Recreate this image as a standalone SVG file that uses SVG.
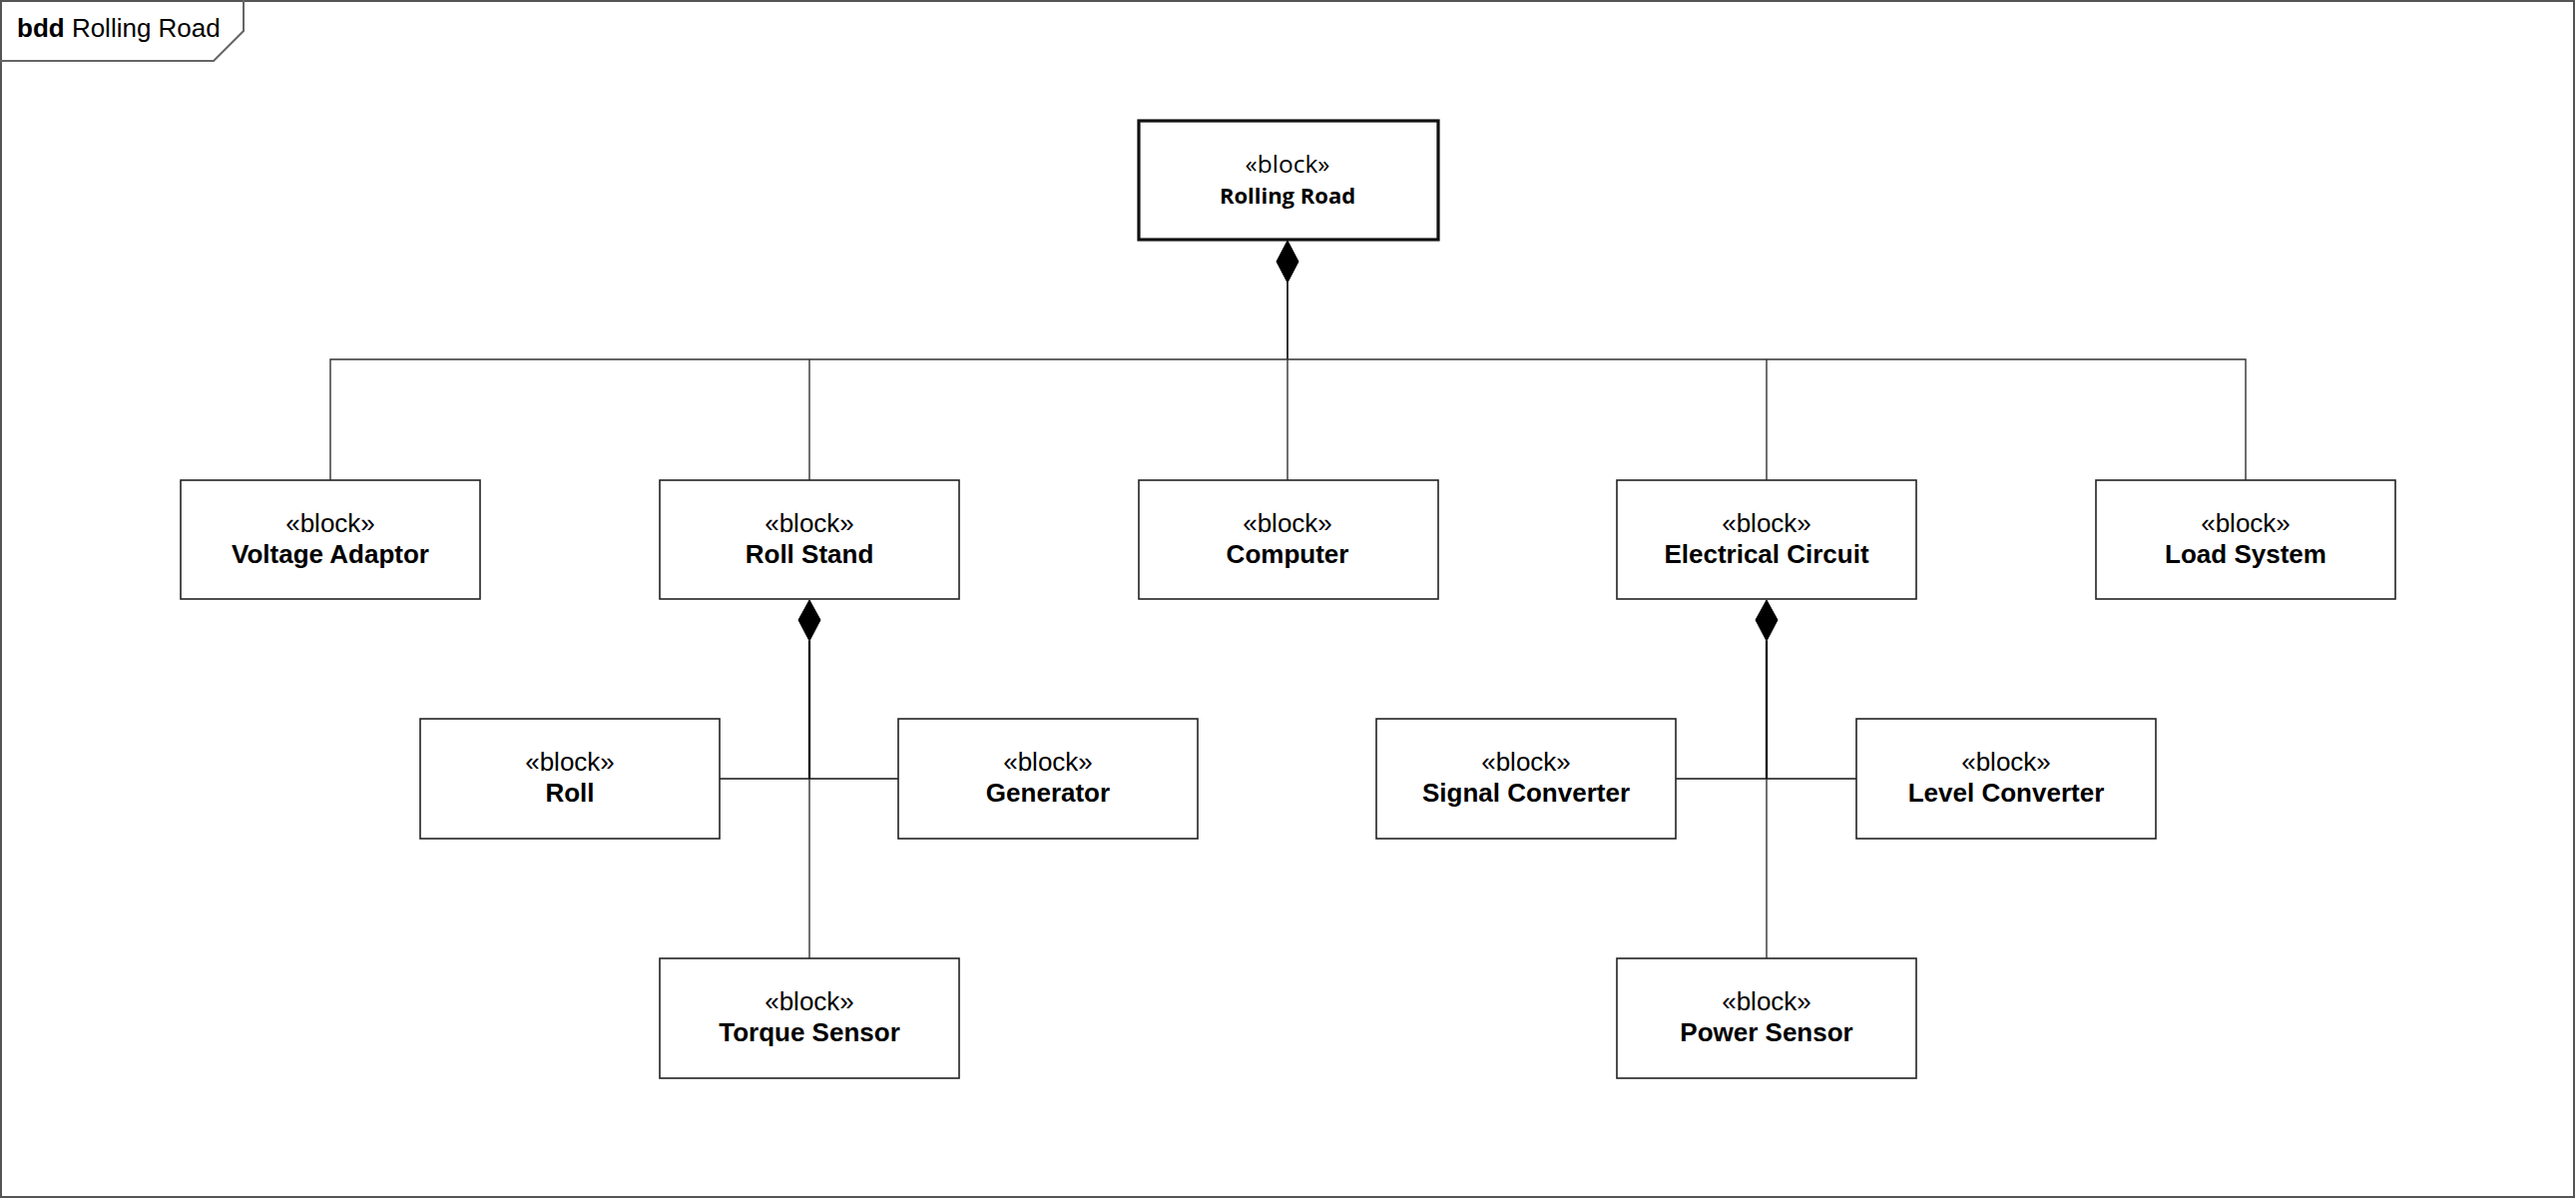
<svg xmlns="http://www.w3.org/2000/svg" width="2581" height="1201" viewBox="0 0 2581 1201">
<style>
.frame{fill:#fff;stroke:#555;stroke-width:2}
.tab{fill:none;stroke:#666;stroke-width:2}
.box{fill:#fff;stroke:#222;stroke-width:1.6}
.root{fill:#fff;stroke:#111;stroke-width:3.2}
.st{font-family:"Liberation Sans",Arial,sans-serif;font-size:26px;fill:#000;text-anchor:middle}
.nm{font-family:"Liberation Sans",Arial,sans-serif;font-size:26px;font-weight:bold;fill:#000;text-anchor:middle}
.st2{font-family:"Open Sans","Noto Sans",sans-serif;font-size:24.5px;fill:#000;text-anchor:middle}
.nm2{font-family:"Open Sans","Noto Sans",sans-serif;font-size:22px;font-weight:bold;fill:#000;text-anchor:middle}
.bus{fill:none;stroke:#333;stroke-width:1.4}
.stem{fill:none;stroke:#000;stroke-width:2.2}
.dia{fill:#000;stroke:#000;stroke-width:1}
</style>
<rect class="frame" x="1" y="1" width="2578" height="1198"/>
<g id="frame-tab">
<path class="tab" d="M0 61 H214 L244 31 V0"/>
<text x="17" y="37" font-family="Liberation Sans,Arial,sans-serif" font-size="26" fill="#000"><tspan font-weight="bold">bdd</tspan> Rolling Road</text>
</g>
<g id="connectors">
<polygon class="dia" points="1290,241 1301,262 1290,283 1279,262"/>
<line class="stem" x1="1290" y1="283" x2="1290" y2="360" style="stroke-width:1.6"/>
<polyline class="bus" points="331,481 331,360 2250,360 2250,481"/>
<line class="bus" x1="811" y1="360" x2="811" y2="481"/>
<line class="bus" x1="1290" y1="360" x2="1290" y2="481"/>
<line class="bus" x1="1770" y1="360" x2="1770" y2="481"/>
<polygon class="dia" points="811,601 822,621 811,642 800,621"/>
<line class="stem" x1="811" y1="642" x2="811" y2="780"/>
<line class="bus" x1="721" y1="780" x2="900" y2="780" style="stroke:#111"/>
<line class="bus" x1="811" y1="780" x2="811" y2="960"/>
<polygon class="dia" points="1770,601 1781,621 1770,642 1759,621"/>
<line class="stem" x1="1770" y1="642" x2="1770" y2="780"/>
<line class="bus" x1="1679" y1="780" x2="1860" y2="780" style="stroke:#111"/>
<line class="bus" x1="1770" y1="780" x2="1770" y2="960"/>
</g>
<g id="rolling-road">
<rect class="root" x="1141" y="121" width="300" height="119"/>
<text class="st2" x="1290" y="173">«block»</text>
<text class="nm2" x="1290" y="204">Rolling Road</text>
</g>
<g id="voltage-adaptor">
<rect class="box" x="181" y="481" width="300" height="119"/>
<text class="st" x="331" y="533">«block»</text>
<text class="nm" x="331" y="564">Voltage Adaptor</text>
</g>
<g id="roll-stand">
<rect class="box" x="661" y="481" width="300" height="119"/>
<text class="st" x="811" y="533">«block»</text>
<text class="nm" x="811" y="564">Roll Stand</text>
</g>
<g id="computer">
<rect class="box" x="1141" y="481" width="300" height="119"/>
<text class="st" x="1290" y="533">«block»</text>
<text class="nm" x="1290" y="564">Computer</text>
</g>
<g id="electrical-circuit">
<rect class="box" x="1620" y="481" width="300" height="119"/>
<text class="st" x="1770" y="533">«block»</text>
<text class="nm" x="1770" y="564">Electrical Circuit</text>
</g>
<g id="load-system">
<rect class="box" x="2100" y="481" width="300" height="119"/>
<text class="st" x="2250" y="533">«block»</text>
<text class="nm" x="2250" y="564">Load System</text>
</g>
<g id="roll">
<rect class="box" x="421" y="720" width="300" height="120"/>
<text class="st" x="571" y="772">«block»</text>
<text class="nm" x="571" y="803">Roll</text>
</g>
<g id="generator">
<rect class="box" x="900" y="720" width="300" height="120"/>
<text class="st" x="1050" y="772">«block»</text>
<text class="nm" x="1050" y="803">Generator</text>
</g>
<g id="signal-converter">
<rect class="box" x="1379" y="720" width="300" height="120"/>
<text class="st" x="1529" y="772">«block»</text>
<text class="nm" x="1529" y="803">Signal Converter</text>
</g>
<g id="level-converter">
<rect class="box" x="1860" y="720" width="300" height="120"/>
<text class="st" x="2010" y="772">«block»</text>
<text class="nm" x="2010" y="803">Level Converter</text>
</g>
<g id="torque-sensor">
<rect class="box" x="661" y="960" width="300" height="120"/>
<text class="st" x="811" y="1012">«block»</text>
<text class="nm" x="811" y="1043">Torque Sensor</text>
</g>
<g id="power-sensor">
<rect class="box" x="1620" y="960" width="300" height="120"/>
<text class="st" x="1770" y="1012">«block»</text>
<text class="nm" x="1770" y="1043">Power Sensor</text>
</g>
</svg>
